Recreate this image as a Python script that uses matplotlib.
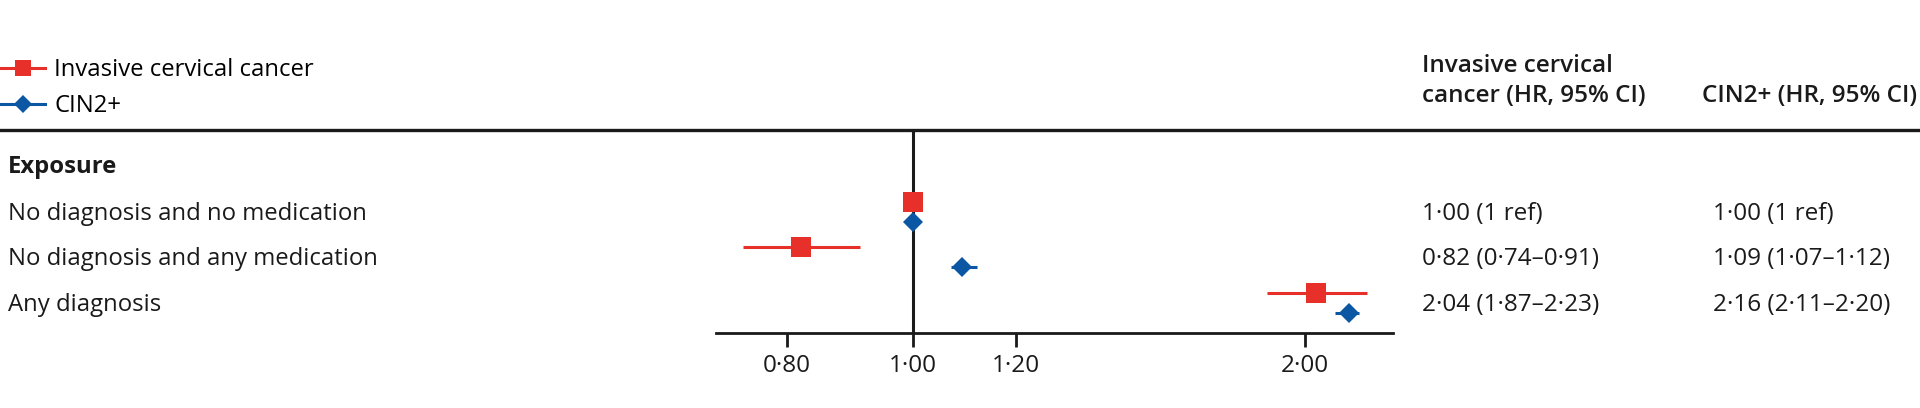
import matplotlib
matplotlib.use("Agg")
import matplotlib.pyplot as plt
import matplotlib.transforms as mtransforms
from matplotlib.lines import Line2D
from matplotlib.ticker import NullLocator, FixedLocator, FixedFormatter
import numpy as np

# ---------------- data ----------------
categories = ["No diagnosis and no medication",
              "No diagnosis and any medication",
              "Any diagnosis"]
icc_hr = [1.00, 0.82, 2.04]
icc_lo = [1.00, 0.74, 1.87]
icc_hi = [1.00, 0.91, 2.23]
cin_hr = [1.00, 1.09, 2.16]
cin_lo = [1.00, 1.07, 2.11]
cin_hi = [1.00, 1.12, 2.20]
icc_text = ["1·00 (1 ref)", "0·82 (0·74–0·91)", "2·04 (1·87–2·23)"]
cin_text = ["1·00 (1 ref)", "1·09 (1·07–1·12)", "2·16 (2·11–2·20)"]
series_names = ["Invasive cervical cancer", "CIN2+"]
tick_values = [0.80, 1.00, 1.20, 2.00]
tick_labels = ["0·80", "1·00", "1·20", "2·00"]

# ---------------- style ----------------
RED = "#E8302A"
BLUE = "#0B57A4"
INK = "#1a1a1a"
FONT = ["Open Sans", "DejaVu Sans"]
FS = 17.2

W, H = 1920, 408
fig = plt.figure(figsize=(W / 100, H / 100), dpi=100)

# overlay axes in pixel units for layout text
ov = fig.add_axes([0, 0, 1, 1], zorder=0)
ov.set_xlim(0, W)
ov.set_ylim(H, 0)
ov.axis("off")

# header rule
ov.axhline(129.5, color=INK, lw=2.4)

# forest axes
ax_left, ax_right, ax_top, ax_bot = 716, 1393, 130, 333
ax = fig.add_axes([ax_left / W, (H - ax_bot) / H,
                   (ax_right - ax_left) / W, (ax_bot - ax_top) / H], zorder=2)
ax.patch.set_alpha(0)
ax.set_xscale("log")
ax.set_xlim(0.706, 2.336)
n = len(categories)
rows = np.arange(n)
ax.set_ylim(2.66, -1.80)
for s in ["top", "left", "right"]:
    ax.spines[s].set_visible(False)
ax.spines["bottom"].set_linewidth(2.0)
ax.spines["bottom"].set_color(INK)
ax.set_yticks([])
ax.xaxis.set_major_locator(FixedLocator(tick_values))
ax.xaxis.set_major_formatter(FixedFormatter(tick_labels))
ax.xaxis.set_minor_locator(NullLocator())
ax.tick_params(axis="x", length=10, width=2.0, color=INK, pad=5,
               labelsize=17.5, labelcolor=INK)
for lab in ax.get_xticklabels():
    lab.set_family(FONT)

ax.axvline(1.0, color=INK, lw=2.2, zorder=1)

off = 0.22
icc_hr_a = np.array(icc_hr); cin_hr_a = np.array(cin_hr)
ax.errorbar(icc_hr_a, rows - off,
            xerr=[icc_hr_a - np.array(icc_lo), np.array(icc_hi) - icc_hr_a],
            fmt="s", color=RED, ms=14, mew=0, elinewidth=2.2, capsize=0, zorder=3)
ax.errorbar(cin_hr_a, rows + off,
            xerr=[cin_hr_a - np.array(cin_lo), np.array(cin_hi) - cin_hr_a],
            fmt="D", color=BLUE, ms=10, mew=0, elinewidth=2.2, capsize=0, zorder=3)

# legend
handles = [Line2D([], [], color=RED, marker="s", ms=11, mew=0, lw=2.2),
           Line2D([], [], color=BLUE, marker="D", ms=9, mew=0, lw=2.2)]
fig.legend(handles, series_names, loc="upper left",
           bbox_to_anchor=(0.0, 1 - 58 / H), frameon=False,
           borderpad=0, borderaxespad=0, handlelength=1.9, handletextpad=0.38,
           labelspacing=0.52, prop={"family": FONT, "size": FS})

# left labels
ov.text(8, 173, "Exposure", family=FONT, fontsize=FS, weight="bold",
        color=INK, va="baseline", ha="left")
row_tr = mtransforms.offset_copy(
    mtransforms.blended_transform_factory(ov.transData, ax.transData),
    fig=fig, y=-8, units="dots")
for i, c in enumerate(categories):
    ov.text(8, rows[i], c, transform=row_tr, family=FONT, fontsize=FS,
            color=INK, va="baseline", ha="left")
    ov.text(1422, rows[i], icc_text[i], transform=row_tr, family=FONT,
            fontsize=17.5, color=INK, va="baseline", ha="left")
    ov.text(1713, rows[i], cin_text[i], transform=row_tr, family=FONT,
            fontsize=17.5, color=INK, va="baseline", ha="left")

# column headers
ov.text(1422, 72, "Invasive cervical", family=FONT, fontsize=17.5,
        weight="semibold", color=INK, va="baseline", ha="left")
ov.text(1422, 102, "cancer (HR, 95% CI)", family=FONT, fontsize=17.5,
        weight="semibold", color=INK, va="baseline", ha="left")
ov.text(1702, 102, "CIN2+ (HR, 95% CI)", family=FONT, fontsize=17.5,
        weight="semibold", color=INK, va="baseline", ha="left")

fig.savefig("out.png", dpi=100)
